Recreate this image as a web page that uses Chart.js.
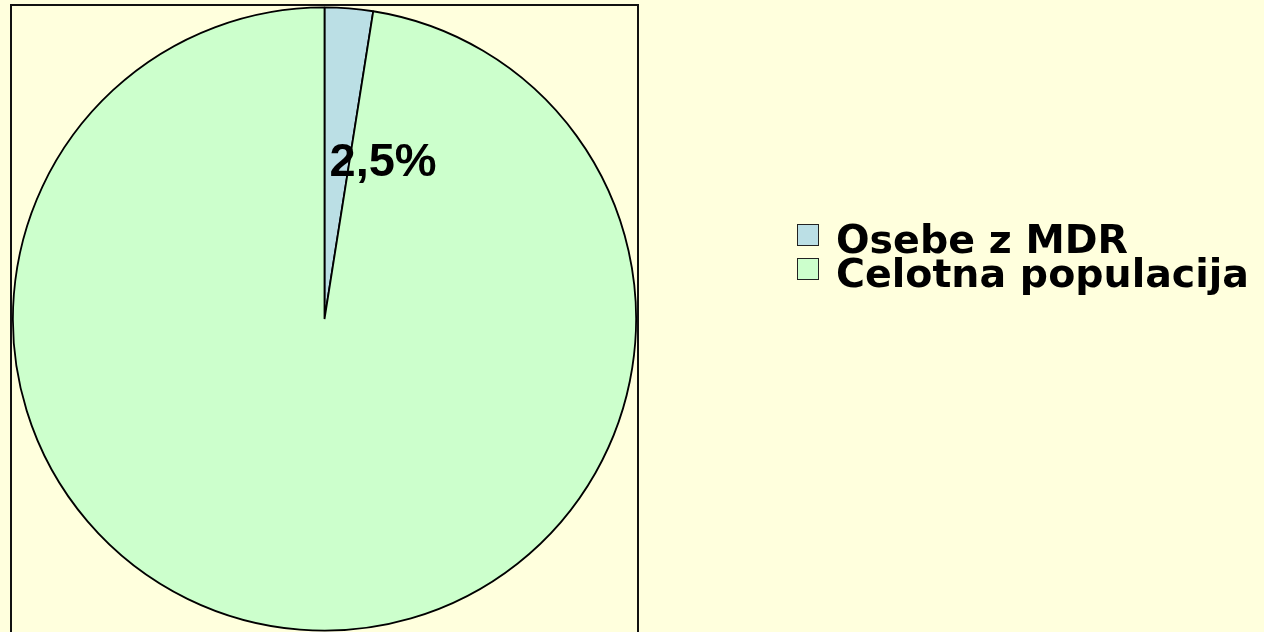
<!DOCTYPE html>
<html>
<head>
<meta charset="utf-8">
<script src="https://cdn.jsdelivr.net/npm/chart.js@4.4.1/dist/chart.umd.min.js"></script>
<style>
  html, body { margin: 0; padding: 0; background: #FFFFDD; overflow: hidden; }
  #wrap { position: relative; width: 1264px; height: 632px; }
  #chart { position: absolute; left: 0; top: 0; }
  #legend { position: absolute; left: 0; top: 0; width: 1264px; height: 632px; pointer-events: none; }
  .item { position: absolute; left: 797px; height: 34px; }
  .box { position: absolute; left: 0; width: 20px; height: 20px; border: 1.5px solid #222; }
  .txt { position: absolute; left: 39px; top: 0; white-space: nowrap;
         font-family: "DejaVu Sans", Verdana, sans-serif; font-weight: bold; font-size: 39.5px; line-height: 39px; color: #000; }
</style>
</head>
<body>
<div id="wrap">
  <canvas id="chart" width="1264" height="632"></canvas>
  <div id="legend"></div>
</div>
<script>
const categories = ["Osebe z MDR", "Celotna populacija"];
const values = [2.5, 97.5];
const valueLabels = ["2,5%", ""];
const sliceColors = ["#BBDFE5", "#CCFFCC"];

const frameAndLabel = {
  id: "frameAndLabel",
  beforeDatasetsDraw(chart) {
    const { ctx, chartArea } = chart;
    ctx.save();
    ctx.strokeStyle = "#111";
    ctx.lineWidth = 2;
    ctx.beginPath();
    ctx.moveTo(chartArea.left - 1, chartArea.bottom + 10);
    ctx.lineTo(chartArea.left - 1, chartArea.top - 1);
    ctx.lineTo(chartArea.right + 1, chartArea.top - 1);
    ctx.lineTo(chartArea.right + 1, chartArea.bottom + 10);
    ctx.stroke();
    ctx.restore();
  },
  afterDatasetsDraw(chart) {
    const { ctx } = chart;
    const meta = chart.getDatasetMeta(0);
    ctx.save();
    ctx.font = "bold 47px 'Liberation Sans', Arial, sans-serif";
    ctx.fillStyle = "#000";
    ctx.textAlign = "center";
    ctx.textBaseline = "middle";
    meta.data.forEach((arc, i) => {
      if (!valueLabels[i]) return;
      const r = arc.outerRadius;
      ctx.fillText(valueLabels[i], arc.x + r * 0.188, arc.y - r * 0.50);
    });
    ctx.restore();
  }
};

const htmlLegend = {
  id: "htmlLegend",
  afterUpdate(chart) {
    const el = document.getElementById("legend");
    el.innerHTML = "";
    const ds = chart.data.datasets[0];
    chart.data.labels.forEach((lab, i) => {
      const item = document.createElement("div");
      item.className = "item";
      item.style.top = (222 + i * 34) + "px";
      const box = document.createElement("div");
      box.className = "box";
      box.style.background = ds.backgroundColor[i];
      box.style.top = "2px";
      const txt = document.createElement("div");
      txt.className = "txt";
      txt.style.top = "-2px";
      txt.textContent = lab;
      item.appendChild(box);
      item.appendChild(txt);
      el.appendChild(item);
    });
  }
};

new Chart(document.getElementById("chart"), {
  type: "pie",
  data: {
    labels: categories,
    datasets: [{
      data: values,
      backgroundColor: sliceColors,
      borderColor: "#000",
      borderWidth: 1.8
    }]
  },
  options: {
    responsive: false,
    animation: false,
    rotation: 0,
    layout: { padding: { left: 12, right: 627, top: 6, bottom: 0 } },
    plugins: {
      legend: { display: false },
      tooltip: { enabled: false }
    }
  },
  plugins: [frameAndLabel, htmlLegend]
});
</script>
</body>
</html>
